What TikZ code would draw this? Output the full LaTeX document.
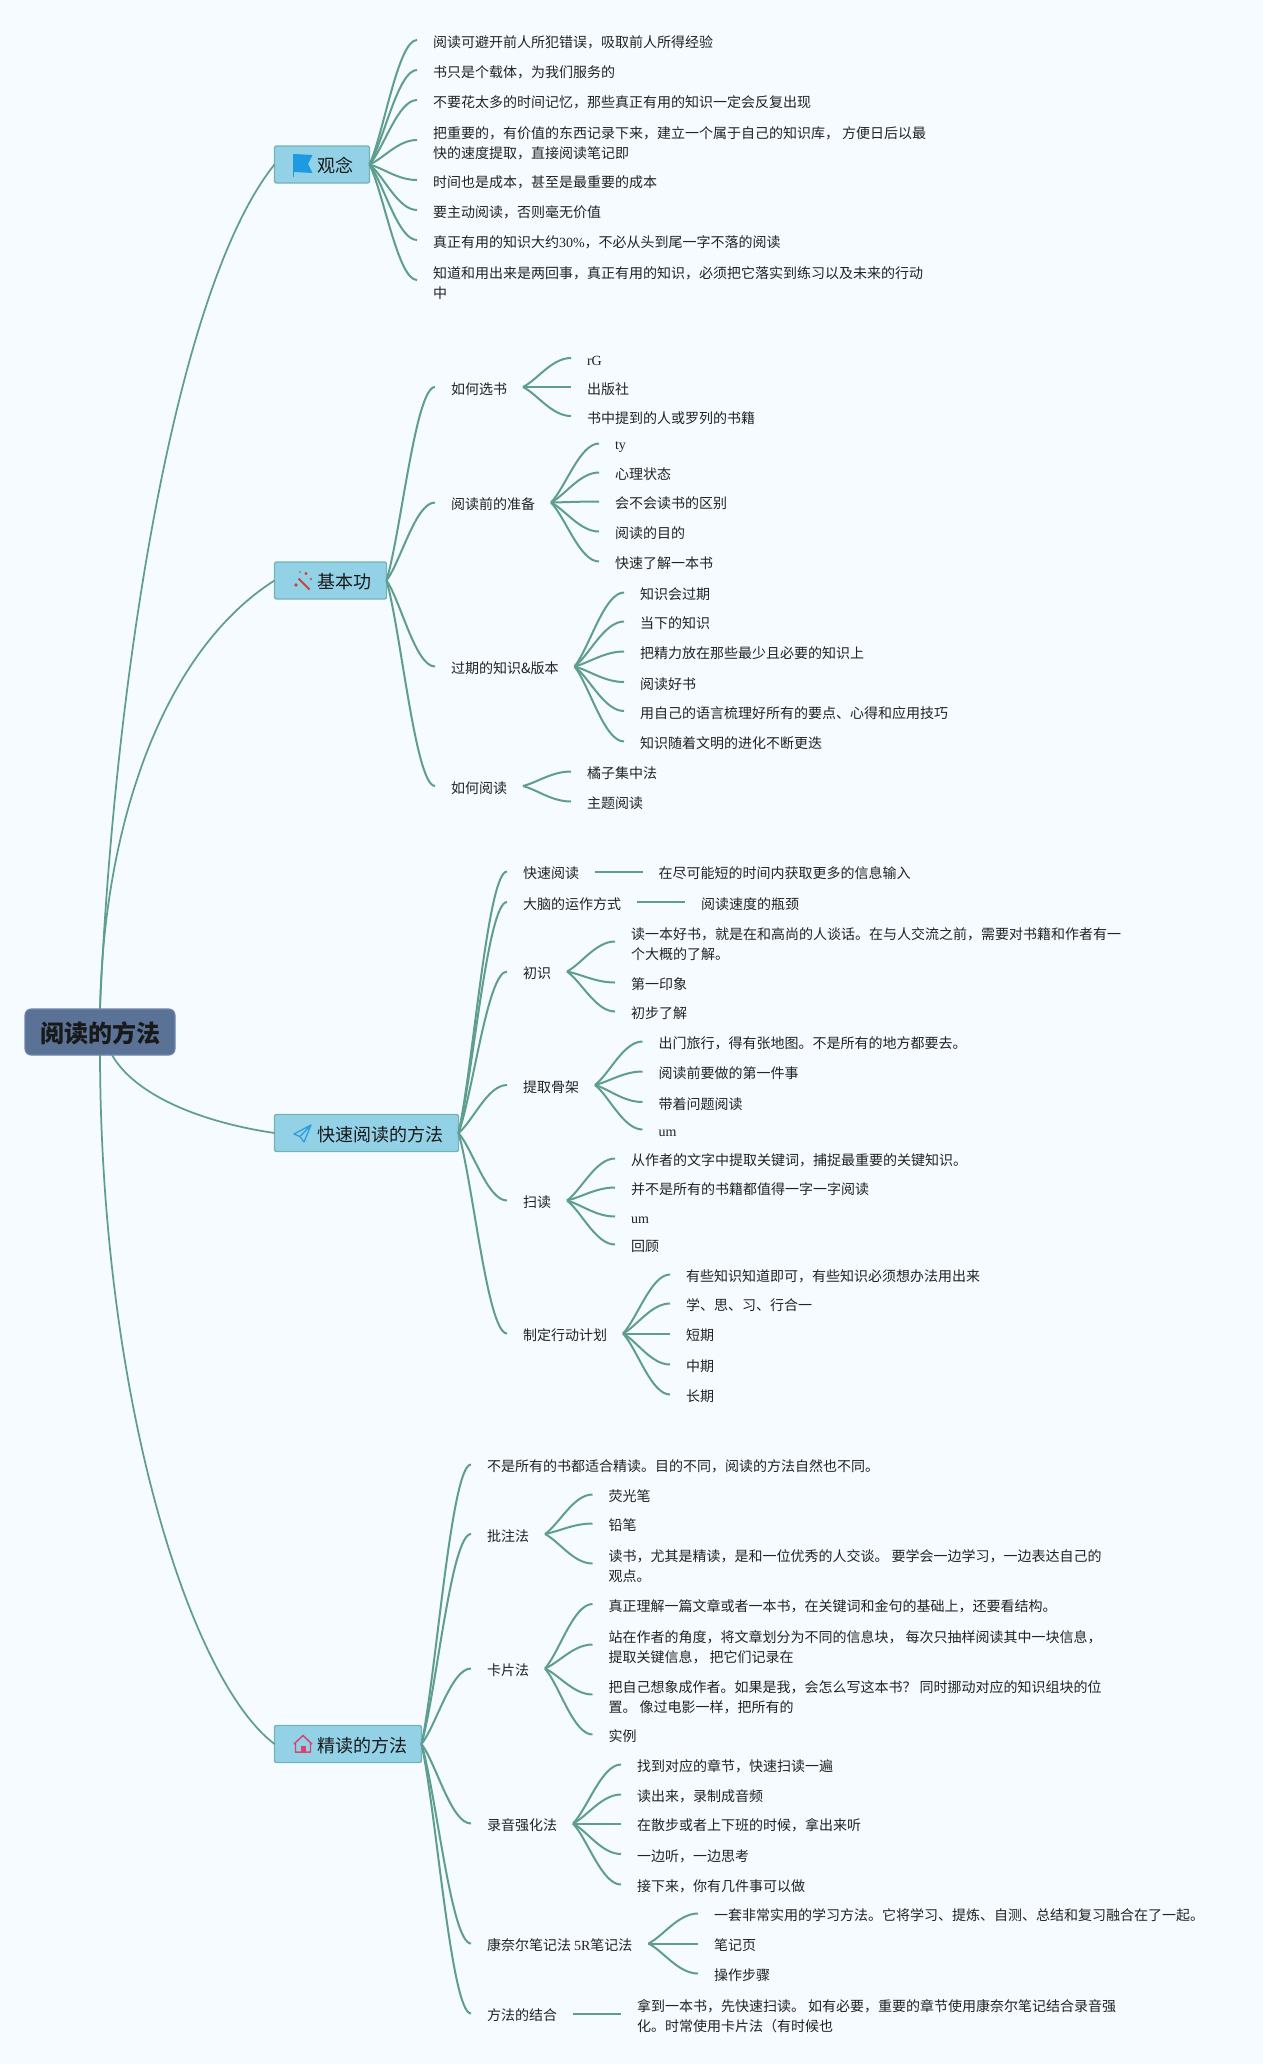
\documentclass[tikz,border=0pt]{standalone}
\usepackage{fontspec}
\usetikzlibrary{calc}
\setmainfont{Noto Sans CJK SC}
\newfontfamily\latf{Liberation Serif}
\newcommand{\lat}[1]{{\latf #1}}
\newdimen\px \px=0.75pt
\definecolor{bgc}{HTML}{F5FBFF}
\definecolor{linec}{HTML}{5F9E8F}
\definecolor{rootc}{HTML}{5B7297}
\definecolor{rootb}{HTML}{6F86A8}
\definecolor{topicc}{HTML}{93D1E6}
\definecolor{topicb}{HTML}{74B3B4}
\definecolor{txt}{HTML}{222222}
\definecolor{iconb}{HTML}{1E9BE0}
\definecolor{iconp}{HTML}{2F9FDC}
\definecolor{iconr}{HTML}{C8443C}
\definecolor{iconh}{HTML}{D9436E}
\tikzset{
  x=0.75pt,y=-0.75pt,
  leaf/.style={anchor=west,inner xsep=12pt,inner ysep=0pt,outer sep=0pt,align=left,text=txt,
    font=\fontsize{10.5}{15}\selectfont,
    execute at begin node={\rule[-1.5pt]{0pt}{13.5pt}},
    execute at end node={\rule[-1.5pt]{0pt}{13.5pt}}},
  topic/.style={anchor=west,draw=topicb,fill=topicc,line width=1pt,rounded corners=1.5pt,inner sep=0pt,outer sep=0pt,
    minimum height=37\px,text height=14pt,text depth=1.8pt,text=black!90,font=\fontsize{13.5}{16}\selectfont},
  rootnode/.style={draw=rootb,fill=rootc,line width=.8pt,rounded corners=4.5pt,inner sep=0pt,outer sep=0pt,
    minimum width=150\px,minimum height=46\px,text height=17.7pt,text depth=2pt,text=black!90,font=\fontsize{18}{22}\selectfont\bfseries},
  mainline/.style={draw=linec,line width=1.3pt},
  branch/.style={draw=linec,line width=1.5pt,to path={
    let \p1=(\tikztostart),\p2=(\tikztotarget) in
    .. controls ({\x1+0.3*(\x2-\x1)},{\y1+0.25*(\y2-\y1)}) and ({\x1+0.6*(\x2-\x1)},\y2) .. (\tikztotarget) \tikztonodes}},
}
\def\dyy{0}
% parent, name, text left, y, text
\newcommand{\mmleaf}[5]{\node[leaf] (#2) at ({#3-16},{#4+\dyy}) {#5};\draw[branch] (#1.east) to (#2.west);}
\newcommand{\mmtwo}[5]{\node[leaf] (#2) at ({#3-16},{#4+\dyy}) {\rule{0pt}{13.5pt}#5};\draw[branch] (#1.east) to (#2.west);}
\newcommand{\topicbody}[2]{\hbox to #1\px{\hspace{43\px}#2\hfil}}
\begin{document}
\begin{tikzpicture}
\useasboundingbox (0,0) rectangle (1263,2064);
\fill[bgc] (0,0) rectangle (1263,2064);

% root and topics
\node[rootnode] (root) at (100,1032) {阅读的方法};
\node[topic] (t1) at (274.5,164.5) {\topicbody{95}{观念}};
\node[topic] (t2) at (274.5,580.5) {\topicbody{112}{基本功}};
\node[topic] (t3) at (274.5,1133) {\topicbody{184}{快速阅读的方法}};
\node[topic] (t4) at (274.5,1744) {\topicbody{147}{精读的方法}};

\draw[mainline] (root.north) .. controls (113,700) and (172,292) .. (t1.west);
\draw[mainline] (root.north) .. controls (104,820) and (165,650) .. (t2.west);
\draw[mainline] ([xshift=9pt]root.south) .. controls (135,1095) and (200,1122) .. (t3.west);
\draw[mainline] (root.south) .. controls (101,1400) and (190,1680) .. (t4.west);

% icons
\fill[iconb] (294,154) -- (312.5,155) -- (308,164) -- (312.5,173) -- (294,172) -- cycle;
\draw[iconb,line width=.7pt] (293.5,154) -- (293.5,177);
\draw[iconp,line width=1pt,line join=round] (311,1125) -- (294,1134) -- (300,1136.5) -- (304,1142) -- cycle (311,1125) -- (300,1136.5);
\draw[iconr,line width=1.4pt] (298.5,578.5) -- (309.5,589.5);
\fill[iconr] (296,585) circle (1.8) (306,573.5) circle (1.6) (311,579) circle (1.2) (300,572) circle (.8);
\draw[iconh,line width=1.1pt,line join=round] (294,1744) -- (303,1735.5) -- (312,1744) (295.5,1743) -- (295.5,1752) -- (310.5,1752) -- (310.5,1743);
\fill[iconh] (300.5,1746) rectangle (305.5,1752);

% 观念
\mmleaf{t1}{a1}{433}{40}{阅读可避开前人所犯错误，吸取前人所得经验}
\mmleaf{t1}{a2}{433}{70}{书只是个载体，为我们服务的}
\mmleaf{t1}{a3}{433}{100}{不要花太多的时间记忆，那些真正有用的知识一定会反复出现}
\mmtwo{t1}{a4}{433}{140}{把重要的，有价值的东西记录下来，建立一个属于自己的知识库， 方便日后以最\\快的速度提取，直接阅读笔记即}
\mmleaf{t1}{a5}{433}{180}{时间也是成本，甚至是最重要的成本}
\mmleaf{t1}{a6}{433}{210}{要主动阅读，否则毫无价值}
\mmleaf{t1}{a7}{433}{240}{真正有用的知识大约\lat{30\%}，不必从头到尾一字不落的阅读}
\mmtwo{t1}{a8}{433}{280}{知道和用出来是两回事，真正有用的知识，必须把它落实到练习以及未来的行动\\中}

\def\dyy{-1.5}
% 基本功
\mmleaf{t2}{b1}{451}{388.5}{如何选书}
\mmleaf{t2}{b2}{451}{504}{阅读前的准备}
\mmleaf{t2}{b3}{451}{668}{过期的知识\&版本}
\mmleaf{t2}{b4}{451}{787.5}{如何阅读}
\mmleaf{b1}{b11}{587}{359.5}{\lat{rG}}
\mmleaf{b1}{b12}{587}{388.5}{出版社}
\mmleaf{b1}{b13}{587}{417.5}{书中提到的人或罗列的书籍}
\mmleaf{b2}{b21}{615}{445}{\lat{ty}}
\mmleaf{b2}{b22}{615}{474}{心理状态}
\mmleaf{b2}{b23}{615}{503}{会不会读书的区别}
\mmleaf{b2}{b24}{615}{533}{阅读的目的}
\mmleaf{b2}{b25}{615}{563}{快速了解一本书}
\mmleaf{b3}{b31}{640}{594}{知识会过期}
\mmleaf{b3}{b32}{640}{623}{当下的知识}
\mmleaf{b3}{b33}{640}{653}{把精力放在那些最少且必要的知识上}
\mmleaf{b3}{b34}{640}{683.5}{阅读好书}
\mmleaf{b3}{b35}{640}{712.5}{用自己的语言梳理好所有的要点、心得和应用技巧}
\mmleaf{b3}{b36}{640}{743}{知识随着文明的进化不断更迭}
\mmleaf{b4}{b41}{587}{773}{橘子集中法}
\mmleaf{b4}{b42}{587}{803}{主题阅读}

% 快速阅读的方法
\mmleaf{t3}{c1}{523}{873}{快速阅读}
\mmleaf{t3}{c2}{523}{903.5}{大脑的运作方式}
\mmleaf{t3}{c3}{523}{973}{初识}
\mmleaf{t3}{c4}{523}{1086.5}{提取骨架}
\mmleaf{t3}{c5}{523}{1202}{扫读}
\mmleaf{t3}{c6}{523}{1335}{制定行动计划}
\mmleaf{c1}{c11}{658.5}{873}{在尽可能短的时间内获取更多的信息输入}
\mmleaf{c2}{c21}{701}{903.5}{阅读速度的瓶颈}
\mmtwo{c3}{c31}{631}{943}{读一本好书，就是在和高尚的人谈话。在与人交流之前，需要对书籍和作者有一\\个大概的了解。}
\mmleaf{c3}{c32}{631}{984}{第一印象}
\mmleaf{c3}{c33}{631}{1013}{初步了解}
\mmleaf{c4}{c41}{658.5}{1043}{出门旅行，得有张地图。不是所有的地方都要去。}
\mmleaf{c4}{c42}{658.5}{1073}{阅读前要做的第一件事}
\mmleaf{c4}{c43}{658.5}{1103.5}{带着问题阅读}
\mmleaf{c4}{c44}{658.5}{1131}{\lat{um}}
\mmleaf{c5}{c51}{631}{1160}{从作者的文字中提取关键词，捕捉最重要的关键知识。}
\mmleaf{c5}{c52}{631}{1189}{并不是所有的书籍都值得一字一字阅读}
\mmleaf{c5}{c53}{631}{1218}{\lat{um}}
\mmleaf{c5}{c54}{631}{1246}{回顾}
\mmleaf{c6}{c61}{686}{1276}{有些知识知道即可，有些知识必须想办法用出来}
\mmleaf{c6}{c62}{686}{1305}{学、思、习、行合一}
\mmleaf{c6}{c63}{686}{1335}{短期}
\mmleaf{c6}{c64}{686}{1366}{中期}
\mmleaf{c6}{c65}{686}{1396}{长期}

% 精读的方法
\mmleaf{t4}{d1}{487}{1466}{不是所有的书都适合精读。目的不同，阅读的方法自然也不同。}
\mmleaf{t4}{d2}{487}{1535.5}{批注法}
\mmleaf{t4}{d3}{487}{1670}{卡片法}
\mmleaf{t4}{d4}{487}{1825}{录音强化法}
\mmleaf{t4}{d5}{487}{1945}{康奈尔笔记法 \lat{5R}笔记法}
\mmleaf{t4}{d6}{487}{2015}{方法的结合}
\mmleaf{d2}{d21}{608.5}{1496}{荧光笔}
\mmleaf{d2}{d22}{608.5}{1525}{铅笔}
\mmtwo{d2}{d23}{608.5}{1565}{读书，尤其是精读，是和一位优秀的人交谈。 要学会一边学习，一边表达自己的\\观点。}
\mmleaf{d3}{d31}{608.5}{1605.5}{真正理解一篇文章或者一本书，在关键词和金句的基础上，还要看结构。}
\mmtwo{d3}{d32}{608.5}{1646}{站在作者的角度，将文章划分为不同的信息块， 每次只抽样阅读其中一块信息，\\提取关键信息， 把它们记录在}
\mmtwo{d3}{d33}{608.5}{1696}{把自己想象成作者。如果是我，会怎么写这本书？ 同时挪动对应的知识组块的位\\置。 像过电影一样，把所有的}
\mmleaf{d3}{d34}{608.5}{1736}{实例}
\mmleaf{d4}{d41}{637}{1766}{找到对应的章节，快速扫读一遍}
\mmleaf{d4}{d42}{637}{1796}{读出来，录制成音频}
\mmleaf{d4}{d43}{637}{1825}{在散步或者上下班的时候，拿出来听}
\mmleaf{d4}{d44}{637}{1855.5}{一边听，一边思考}
\mmleaf{d4}{d45}{637}{1886}{接下来，你有几件事可以做}
\mmleaf{d5}{d51}{714}{1915}{一套非常实用的学习方法。它将学习、提炼、自测、总结和复习融合在了一起。}
\mmleaf{d5}{d52}{714}{1945}{笔记页}
\mmleaf{d5}{d53}{714}{1975}{操作步骤}
\mmtwo{d6}{d61}{637}{2015}{拿到一本书，先快速扫读。 如有必要，重要的章节使用康奈尔笔记结合录音强\\化。时常使用卡片法（有时候也}
\end{tikzpicture}
\end{document}
